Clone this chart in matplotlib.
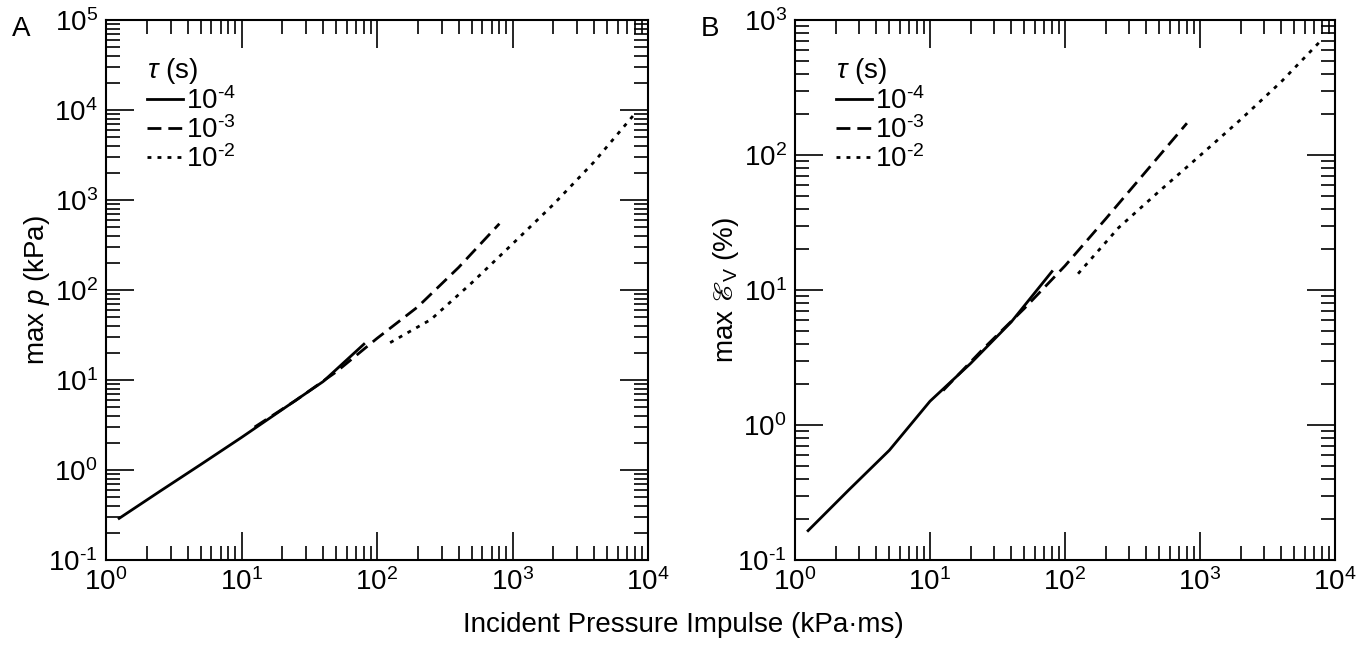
import numpy as np
from matplotlib import pyplot as plt
from matplotlib.ticker import FuncFormatter

plt.rcParams['font.family'] = ['Liberation Sans', 'DejaVu Sans']
plt.rcParams['mathtext.fontset'] = 'custom'
plt.rcParams['mathtext.rm'] = 'Liberation Sans'
plt.rcParams['mathtext.it'] = 'Liberation Sans:italic'
plt.rcParams['mathtext.fallback'] = 'stix'

# Incident impulse (kPa*ms) for each pulse duration tau
tau_labels = [r'$10^{\text{-}4}$', r'$10^{\text{-}3}$', r'$10^{\text{-}2}$']
impulse_1e4 = [1.25, 2.5, 5, 10, 20, 40, 80]
impulse_1e3 = [12.5, 25, 50, 100, 200, 400, 800]
impulse_1e2 = [125, 250, 500, 1000, 2000, 4000, 8000]

# Panel A: max pressure (kPa)
maxp_1e4 = [0.29, 0.58, 1.15, 2.3, 4.7, 9.6, 25]
maxp_1e3 = [3.0, 5.9, 12.3, 29, 65, 178, 545]
maxp_1e2 = [26, 47, 120, 325, 890, 2650, 9100]

# Panel B: max volumetric strain (%)
maxe_1e4 = [0.165, 0.33, 0.65, 1.5, 2.86, 5.8, 13.7]
maxe_1e3 = [1.8, 3.7, 7.3, 15.1, 33.6, 76, 172]
maxe_1e2 = [13.2, 29, 54, 99, 183, 349, 716]

styles = ['-', (0, (5, 2.5)), (0, (1.4, 2.2))]


def pow10(v, pos):
    e = int(round(np.log10(v)))
    if e < 0:
        return r'$10^{\text{-}%d}$' % (-e)
    return r'$10^{%d}$' % e


fig = plt.figure(figsize=(13.66, 6.46), dpi=100)
axA = fig.add_axes([106 / 1366, 86 / 646, 542 / 1366, 540 / 646])
axB = fig.add_axes([795 / 1366, 86 / 646, 540 / 1366, 540 / 646])

panels = [
    (axA, [maxp_1e4, maxp_1e3, maxp_1e2], (0.1, 1e5), r'max $p$ (kPa)', 'A'),
    (axB, [maxe_1e4, maxe_1e3, maxe_1e2], (0.1, 1e3), r'max $ℰ_{\mathrm{V}}$ (%)', 'B'),
]
xs = [impulse_1e4, impulse_1e3, impulse_1e2]

for ax, ys, ylim, ylabel, letter in panels:
    for x, y, ls, lab in zip(xs, ys, styles, tau_labels):
        ax.plot(x, y, color='black', lw=2.0, linestyle=ls, label=lab)
    ax.set_xscale('log')
    ax.set_yscale('log')
    ax.set_xlim(1, 1e4)
    ax.set_ylim(*ylim)
    ax.xaxis.set_major_formatter(FuncFormatter(pow10))
    ax.yaxis.set_major_formatter(FuncFormatter(pow10))
    ax.tick_params(which='both', direction='in', top=True, right=True,
                   labelsize=20, width=1.2)
    ax.tick_params(which='major', length=20, pad=6)
    ax.tick_params(which='minor', length=10)
    for sp in ax.spines.values():
        sp.set_linewidth(1.5)
    ax.set_ylabel(ylabel, fontsize=20, labelpad=-3)
    leg = ax.legend(title=r'$\tau$ (s)', loc='upper left', frameon=False,
                    fontsize=20, title_fontsize=20, handlelength=1.3,
                    handletextpad=0.1, labelspacing=0.05,
                    borderaxespad=0.3, bbox_to_anchor=(0.04, 0.97),
                    alignment='left')
    fig.text(ax.get_position().x0 - 0.069, 0.975, letter, fontsize=20,
             ha='left', va='top')

fig.text(0.5, 0.033, 'Incident Pressure Impulse (kPa·ms)', fontsize=20,
         ha='center', va='center')

fig.savefig('out.png', dpi=100)
